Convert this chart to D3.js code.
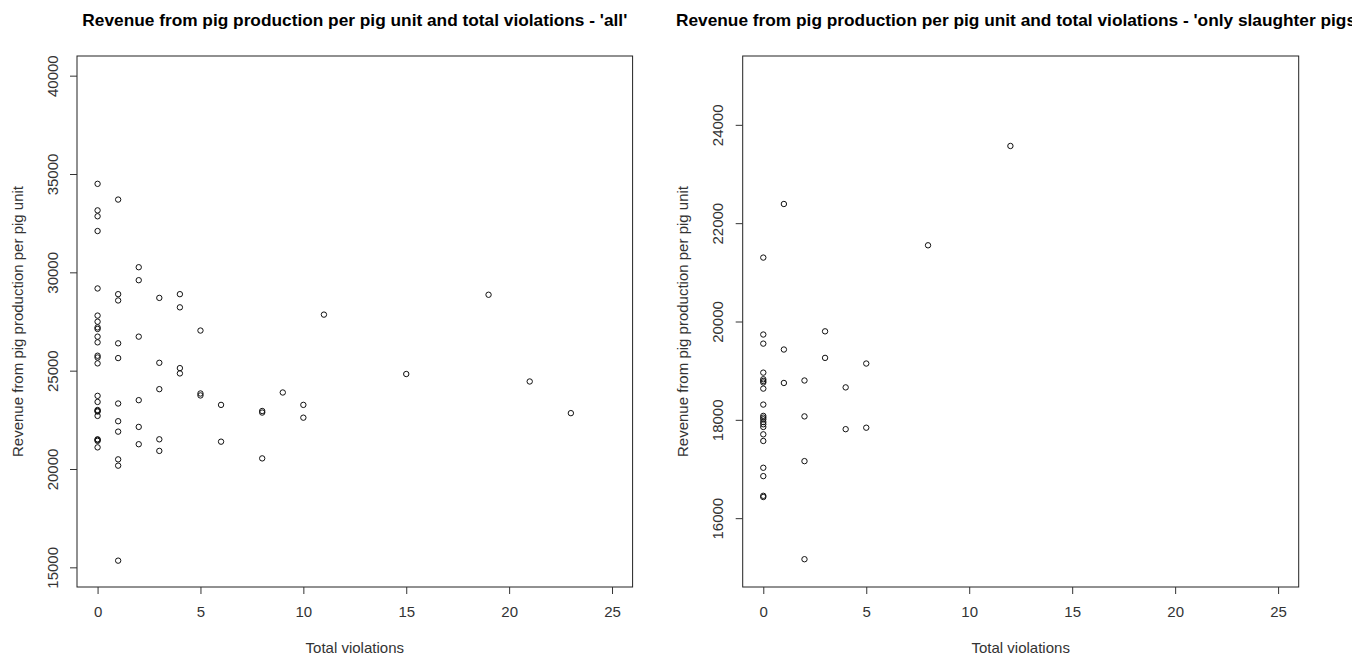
<!DOCTYPE html>
<html><head><meta charset="utf-8">
<script src="https://cdn.jsdelivr.net/npm/d3@7"></script>
<style>body{margin:0;background:#fff}svg{display:block}</style>
</head><body>
<svg id="c" width="1352" height="658"></svg>
<script>
// ---- data ----
const leftViolations = [0,0,0,0,0,0,0,0,0,0,0,0,0,0,0,0,0,0,0,0,0,0,0,0,
  1,1,1,1,1,1,1,1,1,1,1,
  2,2,2,2,2,2,
  3,3,3,3,3,
  4,4,4,4,
  5,5,5,
  6,6,
  8,8,8,
  9,10,10,11,15,19,21,23];
const leftRevenue = [34500,33150,32850,32100,29180,27800,27490,27200,27120,26730,26440,25760,25670,25370,23720,23410,23000,22960,22920,22700,21510,21480,21430,21100,
  33700,28890,28570,26390,25640,23330,22430,21900,20490,20170,15340,
  30260,29600,26730,23500,22140,21260,
  28700,25400,24060,21510,20920,
  28890,28220,25130,24860,
  27040,23840,23740,
  23260,21390,
  22950,22870,20540,
  23890,23260,22610,27850,24830,28860,24450,22840];

const rightViolations = [0,0,0,0,0,0,0,0,0,0,0,0,0,0,0,0,0,0,0,0,0,
  1,1,1,
  2,2,2,2,
  3,3,
  4,4,
  5,5,
  8,12];
const rightRevenue = [21300,19735,19550,18960,18825,18790,18760,18635,18310,18080,18045,18010,17955,17910,17855,17705,17570,17025,16855,16455,16430,
  22390,19430,18750,
  18800,18070,17160,15165,
  19800,19260,
  18660,17810,
  19145,17840,
  21550,23570];

const xTicks = [0,5,10,15,20,25];
const leftYTicks = [15000,20000,25000,30000,35000,40000];
const rightYTicks = [16000,18000,20000,22000,24000];

const titles = ["Revenue from pig production per pig unit and total violations - 'all'",
                "Revenue from pig production per pig unit and total violations - 'only slaughter pigs'"];
const xLabel = "Total violations";
const yLabel = "Revenue from pig production per pig unit";

// ---- drawing ----
const svg = d3.select("#c");
const FONT = "'Liberation Sans', Arial, sans-serif";
const FS = "15px";

function panel(opt){
  const {x0,x1,y0,y1,xdom,ydom,xs,ys,yt,title,titleStart} = opt;
  const g = svg.append("g");
  const x = d3.scaleLinear().domain(xdom).range([x0,x1]);
  const y = d3.scaleLinear().domain(ydom).range([y1,y0]);
  // box
  g.append("rect").attr("x",x0).attr("y",y0).attr("width",x1-x0).attr("height",y1-y0)
    .attr("fill","none").attr("stroke","#222").attr("stroke-width",1);
  // x axis
  const xa = g.append("g").attr("transform",`translate(0,${y1})`)
    .call(d3.axisBottom(x).tickValues(xTicks).tickSize(7).tickPadding(12).tickFormat(d3.format("d")));
  xa.select(".domain").remove();
  xa.selectAll("line").attr("stroke","#333");
  xa.selectAll("text").attr("font-family",FONT).attr("font-size",FS).attr("fill","#333");
  // y axis
  const ya = g.append("g").attr("transform",`translate(${x0},0)`)
    .call(d3.axisLeft(y).tickValues(yt).tickSize(7).tickFormat(d3.format("d")));
  ya.select(".domain").remove();
  ya.selectAll("line").attr("stroke","#333");
  ya.selectAll("text").attr("font-family",FONT).attr("font-size",FS).attr("fill","#333")
    .attr("text-anchor","middle").attr("dy",null).attr("x",null)
    .attr("transform",d=>`translate(-25,0) rotate(-90)`).attr("dominant-baseline","central");
  // points
  g.append("g").selectAll("circle").data(xs.map((v,i)=>[v,ys[i]])).join("circle")
    .attr("cx",d=>x(d[0])).attr("cy",d=>y(d[1])).attr("r",2.7)
    .attr("fill","none").attr("stroke","#111").attr("stroke-width",1);
  // title
  const t = g.append("text").attr("y",26)
    .attr("font-family",FONT).attr("font-weight","bold").attr("font-size","17.3px").attr("fill","#000")
    .text(title);
  if (titleStart != null) t.attr("x",titleStart).attr("text-anchor","start");
  else t.attr("x",(x0+x1)/2).attr("text-anchor","middle");
  // axis titles
  g.append("text").attr("x",(x0+x1)/2).attr("y",653).attr("text-anchor","middle")
    .attr("font-family",FONT).attr("font-size",FS).attr("fill","#333").text(xLabel);
  g.append("text").attr("transform",`translate(${x0-60},${(y0+y1)/2}) rotate(-90)`)
    .attr("text-anchor","middle").attr("dominant-baseline","central")
    .attr("font-family",FONT).attr("font-size",FS).attr("fill","#333").text(yLabel);
}

panel({x0:77,x1:632.6,y0:56,y1:587,xdom:[-1,26],ydom:[14000,41000],
  xs:leftViolations,ys:leftRevenue,yt:leftYTicks,title:titles[0]});
panel({x0:742.7,x1:1298.7,y0:56,y1:587,xdom:[-1,26],ydom:[14600,25400],
  xs:rightViolations,ys:rightRevenue,yt:rightYTicks,title:titles[1],titleStart:676});
</script>
</body></html>
